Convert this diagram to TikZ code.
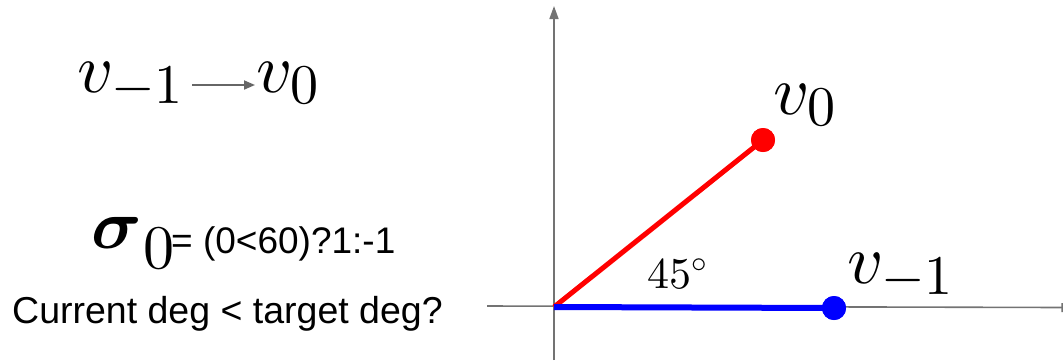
\documentclass[tikz,border=0pt]{standalone}
\usepackage[no-math]{fontspec}
\newfontfamily\arialf{Liberation Sans}
\DeclareFontFamily{OML}{cmm}{\skewchar\font127}
\DeclareFontShape{OML}{cmm}{m}{it}{<->cmmi10}{}
\DeclareFontShape{OML}{cmm}{b}{it}{<->cmmib10}{}
\DeclareFontShape{OT1}{cmr}{m}{n}{<->cmr10}{}
\DeclareFontShape{OMS}{cmsy}{m}{n}{<->cmsy10}{}
\DeclareMathSizes{70}{70}{56}{45}
\DeclareMathSizes{44}{44}{31}{22}
\usetikzlibrary{arrows.meta,calc}
\tikzset{
  axis/.style={draw=black!55, line width=1.6pt},
  vec/.style={line width=5pt},
  dot/.style={circle, inner sep=0pt, minimum size=24pt},
  bigmath/.style={inner sep=0pt, anchor=base west, font=\fontsize{70}{80}\selectfont},
  sans/.style={inner sep=0pt, anchor=base west},
}
\begin{document}
\begin{tikzpicture}[x=1pt,y=-1pt]
\useasboundingbox (0,0) rectangle (1063,360);
% left text
\node[bigmath] (vm1) at (77,92) {$v_{-1}$};
\node[bigmath] (v0) at (256,92) {$v_0$};
\draw[draw=black!60, line width=1.8pt, -{Triangle[length=11pt,width=9pt]}]
  ($(vm1.base east)+(9,-7)$) -- ($(v0.base west)+(-1,-7)$);
\node[bigmath] (sig) at (91,248) {{\boldmath$\sigma$}\kern2pt\raisebox{-20pt}{\fontsize{62}{62}\selectfont$0$}};
\node[sans, font=\arialf\fontsize{37}{40}\selectfont] (eq) at (171,253) {= (0<60)?1:-1};
\node[sans, font=\arialf\fontsize{37.5}{42}\selectfont] (q) at (12,323) {Current deg < target deg?};
% axes
\coordinate (O) at (554,307);
\coordinate (ytop) at (554,6);
\coordinate (ybot) at (554,360);
\coordinate (xl) at (487,306);
\coordinate (xr) at (1063,307.5);
\draw[axis, -{Triangle[length=13pt,width=9pt]}] (ybot) -- (ytop);
\draw[axis, -{Bar[width=9pt]}] (xl) -- (xr);
% vectors
\node[dot, fill=red] (p0) at (763,140) {};
\node[dot, fill=blue] (p1) at (834,308) {};
\draw[vec, red] (O) -- (p0.center);
\draw[vec, blue, line width=6pt] (O) -- (p1.center);
\node[dot, fill=red] at (p0) {};
\node[dot, fill=blue] at (p1) {};
% labels
\node[bigmath] (l0) at (773,114) {$v_0$};
\node[bigmath] (l1) at (847,283) {$v_{-1}$};
\node[sans, font=\fontsize{44}{50}\selectfont] (ang) at (647,288) {$45^\circ$};
\end{tikzpicture}
\end{document}
